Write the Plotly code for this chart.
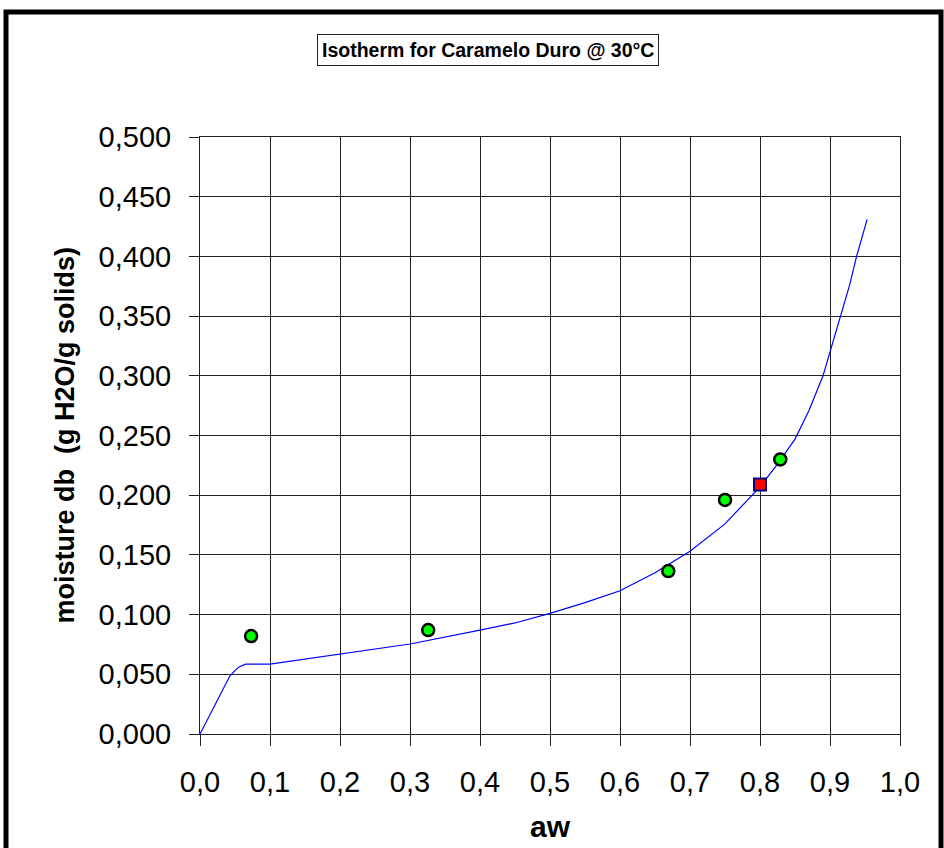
import plotly.graph_objects as go

# Fitted isotherm curve
curve_aw = [0, 0.02, 0.043, 0.055, 0.065, 0.1, 0.2, 0.3, 0.4, 0.45, 0.5, 0.55, 0.6, 0.65, 0.7,
            0.75, 0.8, 0.825, 0.85, 0.87, 0.89, 0.905, 0.917, 0.928, 0.938, 0.953]
curve_m = [0, 0.023, 0.049, 0.056, 0.0585, 0.0586, 0.067, 0.0754, 0.087, 0.093, 0.101, 0.110, 0.120,
           0.135, 0.153, 0.176, 0.207, 0.226, 0.247, 0.271, 0.300, 0.330, 0.352, 0.376, 0.400, 0.431]

# Measured points
meas_aw = [0.073, 0.326, 0.669, 0.750, 0.829]
meas_m = [0.082, 0.087, 0.1365, 0.196, 0.230]

# Highlighted point
sel_aw = [0.800]
sel_m = [0.209]

x_ticks = [i / 10 for i in range(11)]
y_ticks = [i * 0.05 for i in range(11)]

W, H = 944, 848
L, R, T, B = 200, 44, 137, 114
pw, ph = W - L - R, H - T - B

def px(p):
    return (p - L) / pw

def py(q):
    return (H - B - q) / ph

fig = go.Figure()
fig.add_trace(go.Scatter(x=curve_aw, y=curve_m, mode="lines",
                         line=dict(color="#0000FF", width=1.2), showlegend=False))
fig.add_trace(go.Scatter(x=meas_aw, y=meas_m, mode="markers",
                         marker=dict(symbol="circle", size=12, color="#00FF00",
                                     line=dict(color="black", width=2.5)), showlegend=False))
fig.add_trace(go.Scatter(x=sel_aw, y=sel_m, mode="markers",
                         marker=dict(symbol="square", size=12, color="#FF0000",
                                     line=dict(color="#000080", width=2)), showlegend=False))

tickfont = dict(family="Liberation Sans, Arial, sans-serif", size=29, color="black")
fig.update_xaxes(range=[0, 1], tickvals=x_ticks, tickformat=".1f", showgrid=True,
                 gridcolor="#222222", gridwidth=1.2, showline=True, linecolor="#222222",
                 mirror=True, ticks="outside", ticklen=11, tickcolor="#222222",
                 tickfont=tickfont, ticklabelstandoff=11, zeroline=False)
fig.update_yaxes(range=[0, 0.5], tickvals=y_ticks, tickformat=".3f", showgrid=True,
                 gridcolor="#222222", gridwidth=1.2, showline=True, linecolor="#222222",
                 mirror=True, ticks="outside", ticklen=10, tickcolor="#222222",
                 tickfont=tickfont, ticklabelstandoff=12, zeroline=False)

fig.update_layout(
    width=W, height=H, separators=",.",
    margin=dict(l=L, r=R, t=T, b=B),
    paper_bgcolor="white", plot_bgcolor="white",
    shapes=[dict(type="rect", xref="paper", yref="paper",
                 x0=px(6), x1=px(941), y0=py(900), y1=py(12),
                 line=dict(color="black", width=5), layer="above")],
    annotations=[
        dict(text="<b>Isotherm for Caramelo Duro @ 30°C</b>", xref="paper", yref="paper",
             x=px(487.5), y=py(49.5), xanchor="center", yanchor="middle", showarrow=False,
             font=dict(family="Liberation Sans Narrow, Arial Narrow, Liberation Sans, sans-serif",
                       size=19.5, color="black"),
             bordercolor="#222222", borderwidth=1, borderpad=4, bgcolor="white"),
        dict(text="<b>aw</b>", xref="paper", yref="paper", x=px(550), y=py(827),
             xanchor="center", yanchor="middle", showarrow=False,
             font=dict(family="Liberation Sans, Arial, sans-serif", size=30, color="black")),
        dict(text="<b>moisture db  (g H2O/g solids)</b>", xref="paper", yref="paper",
             x=px(64), y=py(435.5), xanchor="center", yanchor="middle", showarrow=False,
             textangle=-90,
             font=dict(family="Liberation Sans, Arial, sans-serif", size=27, color="black")),
    ],
)

fig.write_html("out.html", config={"displayModeBar": False},
               post_script="document.body.style.margin='0';document.body.style.overflow='hidden';")
